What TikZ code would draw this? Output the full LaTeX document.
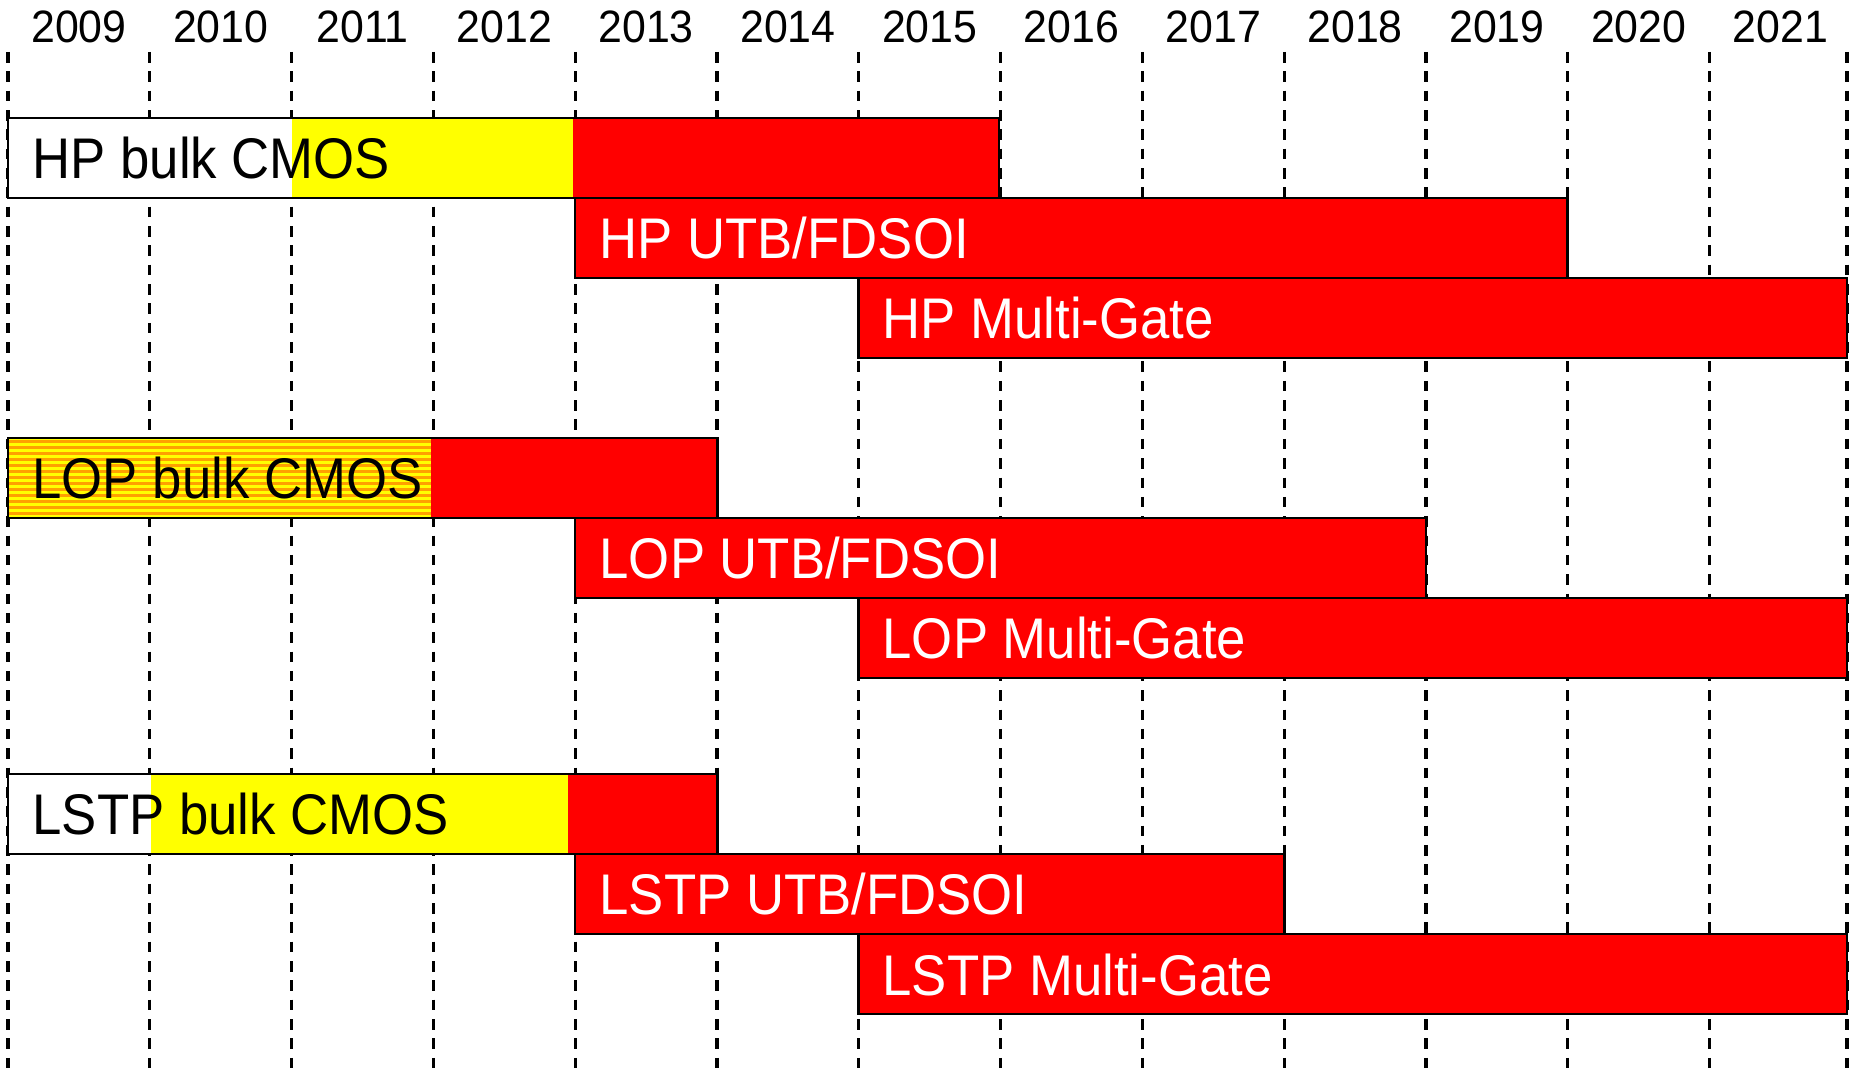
\documentclass[tikz,border=0pt]{standalone}
\usepackage{fontspec}
\setmainfont{Liberation Sans}
\definecolor{barred}{RGB}{255,0,0}
\definecolor{baryellow}{RGB}{255,255,0}
\definecolor{barorange}{RGB}{255,160,0}
\begin{document}
\begin{tikzpicture}[x=0.01cm,y=-0.01cm,
  gridline/.style={line width=0.9pt, dash pattern=on 3pt off 2.5pt},
  barframe/.style={draw=black, line width=0.8pt},
  lbl/.style={anchor=base west, inner sep=0pt, font=\fontsize{16.3}{18}\selectfont, xscale=0.92},
  lblw/.style={lbl, text=white},
  yr/.style={inner sep=0pt, font=\fontsize{12.9}{14}\selectfont, xscale=0.945}]
\useasboundingbox (0,0) rectangle (1849,1074);
\fill[white] (0,0) rectangle (1849,1074);
% year labels
\foreach \i in {0,...,12}{
  \pgfmathtruncatemacro{\yy}{2009+\i}
  \node[yr] (y\yy) at ({78.9+141.8*\i},27) {\yy};
}
% dashed grid lines
\foreach \i in {0,...,12}{
  \draw[gridline] ({8+141.8*\i},52) -- ({8+141.8*\i},1074);
}
\draw[gridline] (1847,52) -- (1847,1074);
% ---------- HP ----------
\fill[white] (8,118) rectangle (291.6,198);
\fill[baryellow] (291.6,118) rectangle (573,198);
\fill[barred] (573,118) rectangle (999,198);
\draw[barframe] (8,118) rectangle (999,198);
\draw[barframe, fill=barred] (575,198) rectangle (1567.8,278);
\draw[barframe, fill=barred] (858.8,278) rectangle (1847,358);
\node[lbl] (hpbulk) at (32,179) {HP bulk CMOS};
\node[lblw] (hputb) at (599,259) {HP UTB/FDSOI};
\node[lblw] (hpmg) at (882,339) {HP Multi-Gate};
% ---------- LOP ----------
\fill[baryellow] (8,438) rectangle (431,518);
\begin{scope}
  \clip (8,438) rectangle (431,518);
  \foreach \s in {0,...,13}{
    \fill[barorange] (8,{440+6*\s}) rectangle (431,{443+6*\s});
  }
\end{scope}
\fill[barred] (431,438) rectangle (717.4,518);
\draw[barframe] (8,438) rectangle (717.4,518);
\draw[barframe, fill=barred] (575,518) rectangle (1426,598);
\draw[barframe, fill=barred] (858.8,598) rectangle (1847,678);
\node[lbl] (lopbulk) at (32,499) {LOP bulk CMOS};
\node[lblw] (loputb) at (599,579) {LOP UTB/FDSOI};
\node[lblw] (lopmg) at (882,659) {LOP Multi-Gate};
% ---------- LSTP ----------
\fill[white] (8,774) rectangle (151,854);
\fill[baryellow] (151,774) rectangle (568,854);
\fill[barred] (568,774) rectangle (717.4,854);
\draw[barframe] (8,774) rectangle (717.4,854);
\draw[barframe, fill=barred] (575,854) rectangle (1284.2,934);
\draw[barframe, fill=barred] (858.8,934) rectangle (1847,1014);
\node[lbl] (lstpbulk) at (32,835) {LSTP bulk CMOS};
\node[lblw] (lstputb) at (599,915) {LSTP UTB/FDSOI};
\node[lblw] (lstpmg) at (882,995) {LSTP Multi-Gate};
\end{tikzpicture}
\end{document}
